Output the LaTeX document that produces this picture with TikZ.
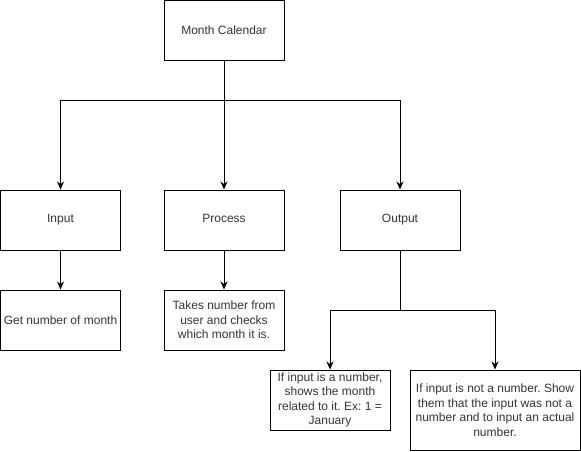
\documentclass[tikz,border=0pt]{standalone}
\usepackage{fontspec}
\setmainfont{Liberation Sans}
\frenchspacing
\usetikzlibrary{arrows.meta}
\begin{document}
\begin{tikzpicture}[x=1pt,y=-1pt,
  box/.style={draw=black,line width=1pt,minimum width=120pt,minimum height=60pt,inner sep=2pt,align=center,font=\fontsize{12pt}{14.5pt}\selectfont,text=black!80},
  conn/.style={draw=black,line width=1pt},
  arr/.style={conn,-{Stealth[length=8pt,width=7pt,inset=2.5pt]}}]
\useasboundingbox (0,0) rectangle (581,451);
\node[box] (mc) at (224,30) {Month Calendar};
\node[box] (in) at (60.5,220) {\strut Input};
\node[box] (pr) at (224,220) {\strut Process};
\node[box] (out) at (400,220) {\strut Output};
\node[box] (gn) at (60.5,320) {Get number of month};
\node[box] (tk) at (224,320) {Takes number from\\user and checks\\which month it is.};
\node[box] (n1) at (330,400) {If input is a number,\\shows the month\\related to it. Ex: 1 =\\January};
\node[box,minimum width=170pt,minimum height=80pt] (n2) at (495,410) {If input is not a number. Show\\them that the input was not a\\number and to input an actual\\number.};
\coordinate (j1) at (224,100);
\coordinate (j2) at (400,310);
\draw[arr] (mc.south) -- (pr.north);
\draw[arr] (j1) -| (in.north);
\draw[arr] (j1) -| (out.north);
\draw[arr] (in.south) -- (gn.north);
\draw[arr] (pr.south) -- (tk.north);
\draw[conn] (out.south) -- (j2);
\draw[arr] (j2) -| (n1.north);
\draw[arr] (j2) -| (n2.north);
\end{tikzpicture}
\end{document}
